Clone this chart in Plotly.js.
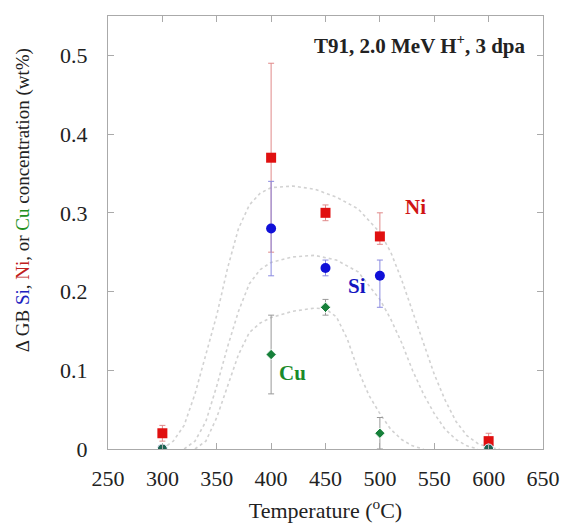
<!DOCTYPE html>
<html><head><meta charset="utf-8">
<script src="https://cdn.plot.ly/plotly-3.0.1.min.js"></script>
<style>body{margin:0;background:#fff}#g{width:566px;height:523px}</style>
</head><body><div id="g"></div>
<script>
// Measured data
const temps = [300, 400, 450, 500, 600];
const ni = [0.02, 0.37, 0.30, 0.27, 0.01];
const niErrPlus = [0.01, 0.12, 0.01, 0.03, 0.01];
const niErrMinus = [0.01, 0.12, 0.01, 0.01, 0.01];
const si = [0.0, 0.28, 0.23, 0.22, 0.0];
const siErrPlus = [0, 0.06, 0.01, 0.02, 0];
const siErrMinus = [0, 0.06, 0.01, 0.04, 0];
const cu = [0.0, 0.12, 0.18, 0.02, 0.0];
const cuErrPlus = [0, 0.05, 0.01, 0.02, 0];
const cuErrMinus = [0, 0.05, 0.01, 0.02, 0];

// Fitted guide curves
const niFitX = [300, 310, 320, 330, 340, 350, 360, 370, 380, 390, 400, 420, 440, 460, 480, 500, 510, 520, 530, 540, 550, 560, 570, 580, 590, 600, 610];
const niFitY = [0.0, 0.01, 0.03, 0.07, 0.12, 0.17, 0.23, 0.28, 0.31, 0.325, 0.332, 0.334, 0.33, 0.32, 0.305, 0.275, 0.25, 0.215, 0.175, 0.135, 0.095, 0.062, 0.035, 0.017, 0.007, 0.002, 0.0];
const siFitX = [320, 330, 340, 350, 360, 370, 380, 390, 400, 420, 440, 460, 480, 500, 510, 520, 530, 540, 550, 560, 570, 580, 590];
const siFitY = [0.0, 0.01, 0.035, 0.08, 0.13, 0.175, 0.21, 0.228, 0.237, 0.244, 0.246, 0.24, 0.225, 0.19, 0.165, 0.135, 0.1, 0.07, 0.045, 0.025, 0.012, 0.004, 0.0];
const cuFitX = [330, 340, 350, 360, 370, 380, 390, 400, 420, 440, 450, 460, 470, 480, 490, 500, 510, 520, 530, 540];
const cuFitY = [0.0, 0.01, 0.04, 0.08, 0.12, 0.148, 0.16, 0.167, 0.175, 0.179, 0.178, 0.168, 0.14, 0.1, 0.068, 0.045, 0.025, 0.012, 0.004, 0.0];

const fitLine = {color: '#d2d2d2', width: 1.6, dash: 'dot'};
const teal = '#1d6352';
const green = '#16803a';
const traces = [
  {x: niFitX, y: niFitY, mode: 'lines', line: fitLine, hoverinfo: 'skip'},
  {x: siFitX, y: siFitY, mode: 'lines', line: fitLine, hoverinfo: 'skip'},
  {x: cuFitX, y: cuFitY, mode: 'lines', line: fitLine, hoverinfo: 'skip'},
  {x: temps, y: ni, mode: 'markers', name: 'Ni',
   marker: {symbol: 'square', size: 10, color: '#e01010'},
   error_y: {type: 'data', symmetric: false, array: niErrPlus, arrayminus: niErrMinus, color: '#e08a8a', thickness: 1, width: 3}},
  {x: temps, y: si, mode: 'markers', name: 'Si',
   marker: {symbol: 'circle', size: 10, color: '#1010d8'},
   error_y: {type: 'data', symmetric: false, array: siErrPlus, arrayminus: siErrMinus, color: '#8a8ae0', thickness: 1, width: 3}},
  {x: temps, y: cu, mode: 'markers', name: 'Cu',
   marker: {symbol: ['circle', 'diamond', 'diamond', 'diamond', 'circle'], size: [10, 8, 8, 8, 10],
            color: [teal, green, green, green, teal], opacity: 1},
   error_y: {type: 'data', symmetric: false, array: cuErrPlus, arrayminus: cuErrMinus, color: '#999999', thickness: 1, width: 3}}
];

const fam = '"Liberation Serif", "Times New Roman", serif';
const axisCommon = {
  showgrid: false, zeroline: false, showline: true, linecolor: '#aaaaaa', linewidth: 1.2,
  mirror: 'ticks', ticks: 'inside', ticklen: 6, tickcolor: '#aaaaaa', tickwidth: 1,
  tickfont: {family: fam, size: 22, color: '#222'}
};
const layout = {
  width: 566, height: 523,
  margin: {l: 108, r: 23, t: 16, b: 74},
  paper_bgcolor: '#fff', plot_bgcolor: '#fff',
  showlegend: false,
  font: {family: fam, size: 20, color: '#222'},
  xaxis: Object.assign({}, axisCommon, {
    range: [250, 650], tickvals: [250, 300, 350, 400, 450, 500, 550, 600, 650],
    ticklabelstandoff: 9,
    title: {text: 'Temperature (<sup>o</sup>C)', font: {family: fam, size: 22, color: '#222'}, standoff: 24}
  }),
  yaxis: Object.assign({}, axisCommon, {
    range: [0, 0.55], tickvals: [0, 0.1, 0.2, 0.3, 0.4, 0.5], ticktext: ['0', '0.1', '0.2', '0.3', '0.4', '0.5'],
    ticklabelstandoff: 15
  }),
  annotations: [
    {x: -0.195, y: 0.575, xref: 'paper', yref: 'paper', xanchor: 'center', yanchor: 'middle', showarrow: false, textangle: -90,
     text: 'Δ GB <span style="color:#2020c0">Si</span>, <span style="color:#c02020">Ni</span>, or <span style="color:#209020">Cu</span> concentration (wt%)',
     font: {family: fam, size: 19, color: '#222'}},
    {x: 636, y: 0.514, xref: 'x', yref: 'y', xanchor: 'right', yanchor: 'middle', showarrow: false,
     text: '<b>T91, 2.0 MeV H<sup>+</sup>, 3 dpa</b>', font: {family: fam, size: 21, color: '#222'}},
    {x: 533, y: 0.307, xref: 'x', yref: 'y', showarrow: false, text: '<b>Ni</b>',
     font: {family: fam, size: 21, color: '#d01515'}},
    {x: 479, y: 0.207, xref: 'x', yref: 'y', showarrow: false, text: '<b>Si</b>',
     font: {family: fam, size: 21, color: '#1515c0'}},
    {x: 420, y: 0.097, xref: 'x', yref: 'y', showarrow: false, text: '<b>Cu</b>',
     font: {family: fam, size: 21, color: '#1a8a2a'}}
  ]
};
Plotly.newPlot('g', traces, layout, {displayModeBar: false, staticPlot: true});
</script>
</body></html>
